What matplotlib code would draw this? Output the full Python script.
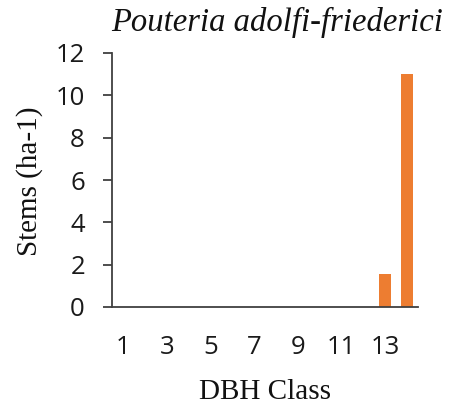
import numpy as np
import matplotlib.pyplot as plt

# DBH classes and stems per hectare
dbh_classes = list(range(1, 15))
stems = [0, 0, 0, 0, 0, 0, 0, 0, 0, 0, 0, 0, 1.55, 11.0]
tick_classes = [1, 3, 5, 7, 9, 11, 13]

W, H = 464, 409
fig = plt.figure(figsize=(W / 100, H / 100), dpi=100)
ax = fig.add_axes([112 / W, 1 - 307 / H, 306 / W, 254 / H])

ax.bar(dbh_classes, stems, width=0.57, color='#ED7D31')

ax.set_xlim(0.5, 14.5)
ax.set_ylim(0, 12)
ax.set_yticks(np.arange(0, 13, 2))
ax.set_xticks(tick_classes)

for s in ['top', 'right']:
    ax.spines[s].set_visible(False)
for s in ['left', 'bottom']:
    ax.spines[s].set_color('#404040')
    ax.spines[s].set_linewidth(1.3)

ax.tick_params(axis='y', direction='out', length=6.5, width=1.3, color='#404040',
               labelsize=18.5, pad=13)
ax.tick_params(axis='x', length=0, labelsize=18.5, pad=20)
for lab in ax.get_xticklabels() + ax.get_yticklabels():
    lab.set_fontfamily('Open Sans')
    lab.set_color('#1a1a1a')

serif = 'Liberation Serif'
fig.text(277 / W, 1 - 22 / H, 'Pouteria adolfi-friederici', fontfamily=serif,
         style='italic', fontsize=23.5, ha='center', va='center', color='#111111')
fig.text(265 / W, 1 - 392 / H, 'DBH Class', fontfamily=serif, fontsize=21,
         ha='center', va='center', color='#111111')
fig.text(30 / W, 1 - 181 / H, 'Stems (ha-1)', fontfamily=serif, fontsize=21,
         rotation=90, ha='center', va='center', color='#111111')

fig.savefig('out.png', dpi=100)
